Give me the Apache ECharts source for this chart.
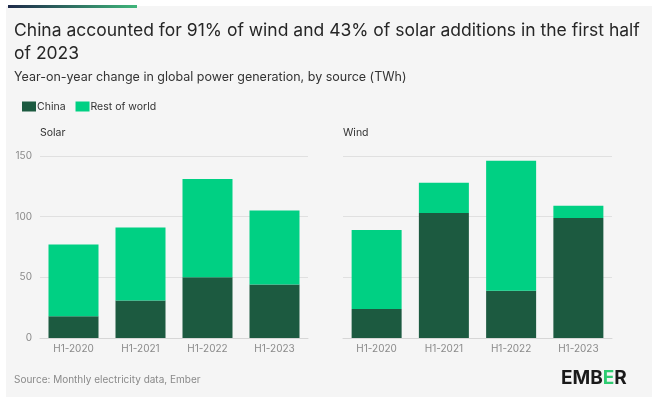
<!DOCTYPE html>
<html>
<head>
<meta charset="utf-8">
<script src="https://cdn.jsdelivr.net/npm/echarts@6/dist/echarts.min.js"></script>
<style>
  html, body { margin: 0; padding: 0; background: #fff; }
  #container { width: 652px; height: 397px; }
</style>
</head>
<body>
<div id="container"></div>
<script>
// H1 year-on-year change, TWh
var periods = ['H1-2020', 'H1-2021', 'H1-2022', 'H1-2023'];
var solarChina = [18, 31, 50, 44];
var solarRest = [59, 60, 81, 61];
var windChina = [24, 103, 39, 99];
var windRest = [65, 25, 107, 10];
var yTicks = [0, 50, 100, 150];

var chinaColor = '#1c5a40';
var restColor = '#00d083';
var font = 'Inter, "Noto Sans", sans-serif';

var dom = document.getElementById('container');
var myChart = echarts.init(dom);

function xAxisFor(idx) {
  return {
    type: 'category',
    gridIndex: idx,
    data: periods,
    axisLine: { lineStyle: { color: '#d6d6d6' } },
    axisTick: { alignWithLabel: true, length: 3, lineStyle: { color: '#d6d6d6' } },
    axisLabel: { color: '#8a8a8a', fontSize: 10, fontFamily: font, margin: 6 }
  };
}

function yAxisFor(idx, showLabels) {
  return {
    type: 'value',
    gridIndex: idx,
    min: yTicks[0],
    max: yTicks[yTicks.length - 1],
    interval: 50,
    axisLine: { show: false },
    axisTick: { show: false },
    splitLine: { lineStyle: { color: '#e0e0e0' } },
    axisLabel: { show: showLabels, color: '#8a8a8a', fontSize: 10, fontFamily: font, margin: 8 }
  };
}

var option = {
  backgroundColor: '#fff',
  animation: false,
  textStyle: { fontFamily: font },
  graphic: [
    { type: 'rect', shape: { x: 6, y: 6, width: 646, height: 391 }, style: { fill: '#f5f5f5' }, z: -10 },
    {
      type: 'rect', shape: { x: 8, y: 5, width: 129, height: 3 },
      style: {
        fill: new echarts.graphic.LinearGradient(0, 0, 1, 0, [
          { offset: 0, color: '#1e2a4a' },
          { offset: 1, color: '#3fb57a' }
        ])
      }
    },
    {
      type: 'text', left: 14, top: 19,
      style: { text: 'China accounted for 91% of wind and 43% of solar additions in the first half\nof 2023', fill: '#262626', fontSize: 17.5, fontFamily: font, lineHeight: 23 }
    },
    {
      type: 'text', left: 14, top: 71,
      style: { text: 'Year-on-year change in global power generation, by source (TWh)', fill: '#333', fontSize: 12.5, fontFamily: font }
    },
    { type: 'text', left: 40, top: 127, style: { text: 'Solar', fill: '#333', fontSize: 10.5, fontFamily: font } },
    { type: 'text', left: 343, top: 127, style: { text: 'Wind', fill: '#333', fontSize: 10.5, fontFamily: font } },
    { type: 'text', left: 14, top: 375, style: { text: 'Source: Monthly electricity data, Ember', fill: '#8a8a8a', fontSize: 10, fontFamily: font } },
    {
      type: 'text', left: 561, top: 369,
      style: {
        text: '{d|EMB}{g|E}{d|R}',
        rich: {
          d: { fill: '#1a1a1a', fontSize: 19, fontWeight: 'bold', fontFamily: font },
          g: { fill: '#2ecc71', fontSize: 19, fontWeight: 'bold', fontFamily: font }
        }
      }
    }
  ],
  legend: {
    left: 17, top: 96,
    itemWidth: 14, itemHeight: 10, itemGap: 10,
    icon: 'rect',
    data: ['China', 'Rest of world'],
    textStyle: { color: '#333', fontSize: 10.5, fontFamily: font, padding: [0, 0, 0, -4] }
  },
  grid: [
    { left: 40, top: 156, width: 268, height: 182 },
    { left: 343, top: 156, width: 269, height: 182 }
  ],
  xAxis: [xAxisFor(0), xAxisFor(1)],
  yAxis: [yAxisFor(0, true), yAxisFor(1, false)],
  series: [
    { name: 'China', type: 'bar', stack: 'solar', xAxisIndex: 0, yAxisIndex: 0, barWidth: 50, itemStyle: { color: chinaColor }, data: solarChina },
    { name: 'Rest of world', type: 'bar', stack: 'solar', xAxisIndex: 0, yAxisIndex: 0, barWidth: 50, itemStyle: { color: restColor }, data: solarRest },
    { name: 'China', type: 'bar', stack: 'wind', xAxisIndex: 1, yAxisIndex: 1, barWidth: 50, itemStyle: { color: chinaColor }, data: windChina },
    { name: 'Rest of world', type: 'bar', stack: 'wind', xAxisIndex: 1, yAxisIndex: 1, barWidth: 50, itemStyle: { color: restColor }, data: windRest }
  ]
};

myChart.setOption(option);
</script>
</body>
</html>
